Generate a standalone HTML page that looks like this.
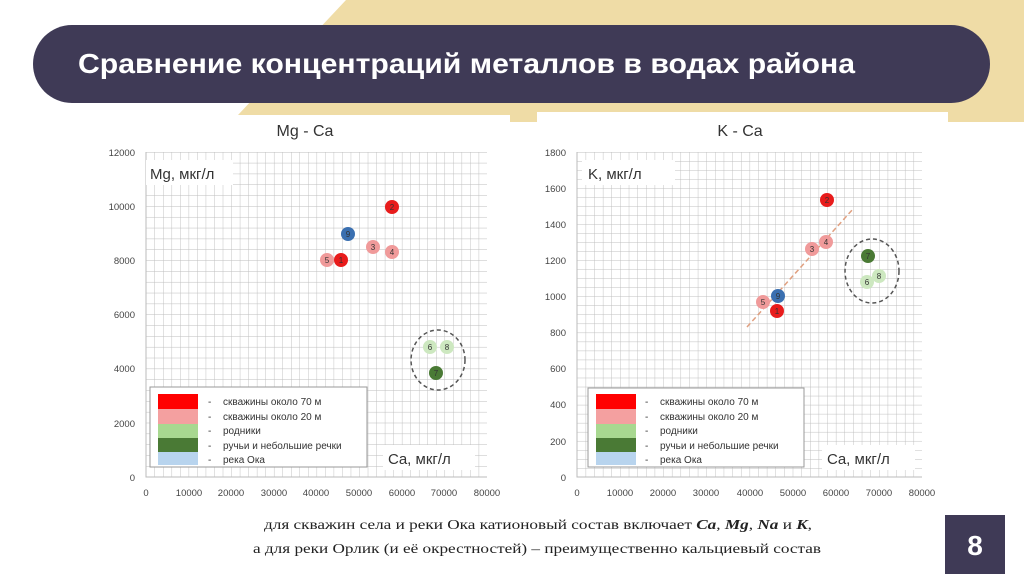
<!DOCTYPE html>
<html><head><meta charset="utf-8"><style>
body{margin:0;width:1024px;height:574px;overflow:hidden;background:#fff;font-family:"Liberation Sans",sans-serif;position:relative}
</style></head><body>
<svg width="1024" height="574" style="position:absolute;left:0;top:0" font-family="Liberation Sans, sans-serif">
<defs>
<pattern id="g1" x="146" y="152" width="8.53" height="10.83" patternUnits="userSpaceOnUse"><path d="M0 0V10.83M0 0H8.53" stroke="#bdbdbd" stroke-width="0.9" fill="none"/></pattern>
<pattern id="g2" x="577" y="152" width="8.63" height="9.03" patternUnits="userSpaceOnUse"><path d="M0 0V9.03M0 0H8.63" stroke="#bdbdbd" stroke-width="0.9" fill="none"/></pattern>
</defs>
<polygon points="346,0 1024,0 1024,122 948,122 948,112 537,112 537,122 510,122 510,115 238,115" fill="#efdca6"/>
<rect x="33" y="25" width="957" height="78" rx="39" fill="#3f3a56"/>
<text x="78" y="73" font-size="28" font-weight="bold" fill="#fff" textLength="777" lengthAdjust="spacingAndGlyphs">Сравнение концентраций металлов в водах района</text>

<!-- left chart -->
<text x="305" y="136" font-size="16" text-anchor="middle" fill="#333">Mg - Ca</text>
<rect x="146" y="152" width="341" height="325" fill="url(#g1)"/>
<path d="M146 152V477H487" stroke="#bbb" fill="none"/>
<g font-size="9.5" fill="#444" text-anchor="end">
<text x="135" y="156">12000</text><text x="135" y="210">10000</text><text x="135" y="264">8000</text><text x="135" y="318">6000</text><text x="135" y="372">4000</text><text x="135" y="427">2000</text><text x="135" y="481">0</text></g>
<g font-size="9.5" fill="#444" text-anchor="middle">
<text x="146" y="496">0</text><text x="189" y="496">10000</text><text x="231" y="496">20000</text><text x="274" y="496">30000</text><text x="316" y="496">40000</text><text x="359" y="496">50000</text><text x="402" y="496">60000</text><text x="444" y="496">70000</text><text x="487" y="496">80000</text></g>
<rect x="146" y="160" width="87" height="25" fill="#fff"/><text x="150" y="179" font-size="15" fill="#333">Mg, мкг/л</text>
<rect x="383" y="445" width="92" height="25" fill="#fff"/><text x="388" y="464" font-size="15" fill="#333">Ca, мкг/л</text>
<g font-size="8" text-anchor="middle" fill="#333">
<circle cx="392" cy="207" r="7" fill="#e81c1c"/><text x="392" y="210">2</text>
<circle cx="348" cy="234" r="7" fill="#3a6fb0"/><text x="348" y="237">9</text>
<circle cx="373" cy="247" r="7" fill="#f09a9a"/><text x="373" y="250">3</text>
<circle cx="392" cy="252" r="7" fill="#f09a9a"/><text x="392" y="255">4</text>
<circle cx="327" cy="260" r="7" fill="#f09a9a"/><text x="327" y="263">5</text>
<circle cx="341" cy="260" r="7" fill="#e81c1c"/><text x="341" y="263">1</text>
<circle cx="430" cy="347" r="7" fill="#cde8c0"/><text x="430" y="350">6</text>
<circle cx="447" cy="347" r="7" fill="#cde8c0"/><text x="447" y="350">8</text>
<circle cx="436" cy="373" r="7" fill="#4a7a35"/><text x="436" y="376">7</text></g>
<ellipse cx="438" cy="360" rx="27" ry="30" fill="none" stroke="#555" stroke-dasharray="4,3" stroke-width="1.5"/>
<rect x="150" y="387" width="217" height="80" fill="#fff" stroke="#999"/>
<rect x="158" y="394" width="40" height="15" fill="#f00"/><rect x="158" y="409" width="40" height="15" fill="#f4a0a0"/><rect x="158" y="424" width="40" height="14" fill="#a8d890"/><rect x="158" y="438" width="40" height="14" fill="#4a7a35"/><rect x="158" y="452" width="40" height="13" fill="#b8d4ee"/>
<g font-size="10" fill="#333"><text x="208" y="405">-</text><text x="223" y="405">скважины около 70 м</text><text x="208" y="420">-</text><text x="223" y="420">скважины около 20 м</text><text x="208" y="434">-</text><text x="223" y="434">родники</text><text x="208" y="449">-</text><text x="223" y="449">ручьи и небольшие речки</text><text x="208" y="463">-</text><text x="223" y="463">река Ока</text></g>

<!-- right chart -->
<text x="740" y="136" font-size="16" text-anchor="middle" fill="#333">K - Ca</text>
<rect x="577" y="152" width="345" height="325" fill="url(#g2)"/>
<path d="M577 152V477H922" stroke="#bbb" fill="none"/>
<g font-size="9.5" fill="#444" text-anchor="end">
<text x="566" y="156">1800</text><text x="566" y="192">1600</text><text x="566" y="228">1400</text><text x="566" y="264">1200</text><text x="566" y="300">1000</text><text x="566" y="336">800</text><text x="566" y="372">600</text><text x="566" y="408">400</text><text x="566" y="445">200</text><text x="566" y="481">0</text></g>
<g font-size="9.5" fill="#444" text-anchor="middle">
<text x="577" y="496">0</text><text x="620" y="496">10000</text><text x="663" y="496">20000</text><text x="706" y="496">30000</text><text x="750" y="496">40000</text><text x="793" y="496">50000</text><text x="836" y="496">60000</text><text x="879" y="496">70000</text><text x="922" y="496">80000</text></g>
<rect x="582" y="160" width="93" height="25" fill="#fff"/><text x="588" y="179" font-size="15" fill="#333">K, мкг/л</text>
<rect x="822" y="445" width="93" height="25" fill="#fff"/><text x="827" y="464" font-size="15" fill="#333">Ca, мкг/л</text>
<line x1="747" y1="327" x2="853" y2="209" stroke="#e0a080" stroke-width="1.5" stroke-dasharray="5,3"/>
<g font-size="8" text-anchor="middle" fill="#333">
<circle cx="827" cy="200" r="7" fill="#e81c1c"/><text x="827" y="203">2</text>
<circle cx="826" cy="242" r="7" fill="#f09a9a"/><text x="826" y="245">4</text>
<circle cx="812" cy="249" r="7" fill="#f09a9a"/><text x="812" y="252">3</text>
<circle cx="778" cy="296" r="7" fill="#3a6fb0"/><text x="778" y="299">9</text>
<circle cx="763" cy="302" r="7" fill="#f09a9a"/><text x="763" y="305">5</text>
<circle cx="777" cy="311" r="7" fill="#e81c1c"/><text x="777" y="314">1</text>
<circle cx="868" cy="256" r="7" fill="#4a7a35"/><text x="868" y="259">7</text>
<circle cx="867" cy="282" r="7" fill="#cde8c0"/><text x="867" y="285">6</text>
<circle cx="879" cy="276" r="7" fill="#cde8c0"/><text x="879" y="279">8</text></g>
<ellipse cx="872" cy="271" rx="27" ry="32" fill="none" stroke="#555" stroke-dasharray="4,3" stroke-width="1.5"/>
<rect x="588" y="388" width="216" height="79" fill="#fff" stroke="#999"/>
<rect x="596" y="394" width="40" height="15" fill="#f00"/><rect x="596" y="409" width="40" height="15" fill="#f4a0a0"/><rect x="596" y="424" width="40" height="14" fill="#a8d890"/><rect x="596" y="438" width="40" height="14" fill="#4a7a35"/><rect x="596" y="452" width="40" height="13" fill="#b8d4ee"/>
<g font-size="10" fill="#333"><text x="645" y="405">-</text><text x="660" y="405">скважины около 70 м</text><text x="645" y="420">-</text><text x="660" y="420">скважины около 20 м</text><text x="645" y="434">-</text><text x="660" y="434">родники</text><text x="645" y="449">-</text><text x="660" y="449">ручьи и небольшие речки</text><text x="645" y="463">-</text><text x="660" y="463">река Ока</text></g>

<!-- bottom -->
<g font-family="Liberation Serif, serif" font-size="14" fill="#222">
<text x="264" y="529" textLength="548" lengthAdjust="spacingAndGlyphs">для скважин села и реки Ока катионовый состав включает <tspan font-weight="bold" font-style="italic">Ca</tspan>, <tspan font-weight="bold" font-style="italic">Mg</tspan>, <tspan font-weight="bold" font-style="italic">Na</tspan> и <tspan font-weight="bold" font-style="italic">K</tspan>,</text>
<text x="253" y="553" textLength="568" lengthAdjust="spacingAndGlyphs">а  для реки Орлик (и её окрестностей) – преимущественно кальциевый состав</text></g>
<rect x="945" y="515" width="60" height="59" fill="#3f3a56"/>
<text x="975" y="555" font-size="28" font-weight="bold" fill="#fff" text-anchor="middle">8</text>
</svg>
</body></html>
